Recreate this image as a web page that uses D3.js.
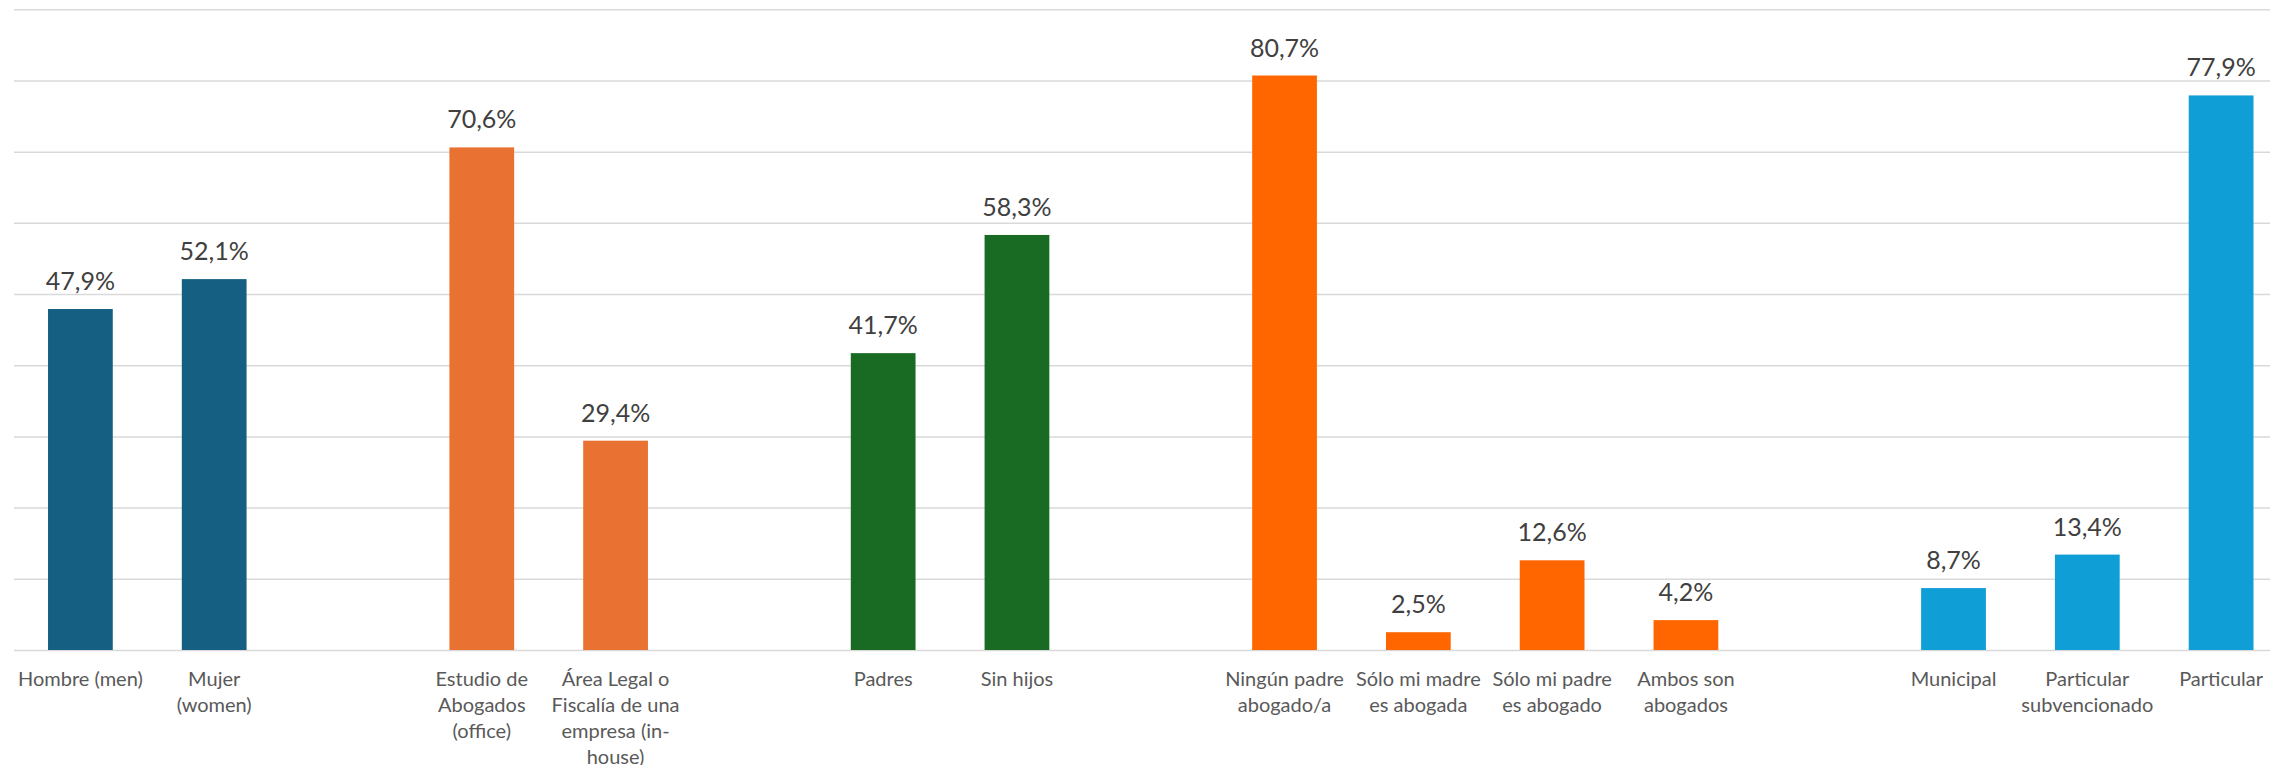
<!DOCTYPE html>
<html>
<head>
<meta charset="utf-8">
<script src="https://cdn.jsdelivr.net/npm/d3@7"></script>
<style>
	html, body { margin: 0; padding: 0; background: #fff; }
	svg { display: block; }
</style>
</head>
<body>
<script>
// Slots along the x axis (empty ids are the gaps between groups)
const slots = ['hombre', 'mujer', 'gap1', 'estudio', 'area', 'gap2', 'padres', 'sinhijos', 'gap3',
	'ningun', 'madre', 'padre', 'ambos', 'gap4', 'municipal', 'subvencionado', 'particular'];

const categories = ['hombre', 'mujer', 'estudio', 'area', 'padres', 'sinhijos',
	'ningun', 'madre', 'padre', 'ambos', 'municipal', 'subvencionado', 'particular'];

const values = [47.9, 52.1, 70.6, 29.4, 41.7, 58.3, 80.7, 2.5, 12.6, 4.2, 8.7, 13.4, 77.9];

const groups = ['sexo', 'sexo', 'trabajo', 'trabajo', 'hijos', 'hijos',
	'familia', 'familia', 'familia', 'familia', 'colegio', 'colegio', 'colegio'];

const tickLabels = [
	['Hombre (men)'],
	['Mujer', '(women)'],
	['Estudio de', 'Abogados', '(office)'],
	['Área Legal o', 'Fiscalía de una', 'empresa (in-', 'house)'],
	['Padres'],
	['Sin hijos'],
	['Ningún padre', 'abogado/a'],
	['Sólo mi madre', 'es abogada'],
	['Sólo mi padre', 'es abogado'],
	['Ambos son', 'abogados'],
	['Municipal'],
	['Particular', 'subvencionado'],
	['Particular']
];

const yTicks = [0, 10, 20, 30, 40, 50, 60, 70, 80, 90];

const groupColors = {
	sexo: '#156082',
	trabajo: '#E97132',
	hijos: '#196B24',
	familia: '#FF6600',
	colegio: '#0F9ED5'
};

const width = 2270;
const height = 765;

const svg = d3.select('body')
	.append('svg')
	.attr('width', width)
	.attr('height', height);

svg.append('rect')
	.attr('width', width)
	.attr('height', height)
	.attr('fill', '#fff');

const x = d3.scaleBand()
	.domain(slots)
	.range([13.5, 2288])
	.paddingInner(0.516)
	.paddingOuter(0.258);

const y = d3.scaleLinear()
	.domain([0, 90])
	.range([650, 9.3]);

// Gridlines
const grid = svg.append('g')
	.attr('transform', 'translate(14,0)')
	.call(d3.axisLeft(y).tickValues(yTicks).tickSize(-(width - 14)).tickFormat(''));
grid.select('.domain').remove();
grid.selectAll('.tick line')
	.attr('stroke', '#D9D9D9')
	.attr('stroke-width', 1.5);

const data = categories.map((c, i) => ({ id: c, value: values[i], group: groups[i], label: tickLabels[i] }));

// Bars
svg.append('g')
	.selectAll('rect')
	.data(data)
	.join('rect')
		.attr('x', d => x(d.id))
		.attr('y', d => y(d.value))
		.attr('width', x.bandwidth())
		.attr('height', d => y(0) - y(d.value))
		.attr('fill', d => groupColors[d.group]);

// Data labels
svg.append('g')
	.selectAll('text')
	.data(data)
	.join('text')
		.attr('x', d => x(d.id) + x.bandwidth() / 2)
		.attr('y', d => y(d.value) - 19)
		.attr('text-anchor', 'middle')
		.attr('font-family', 'Lato, sans-serif')
		.attr('font-size', 25)
		.attr('fill', '#404040')
		.text(d => d.value.toFixed(1).replace('.', ',') + '%');

// Category labels
const xAxis = svg.append('g')
	.attr('transform', `translate(0,${y(0)})`)
	.call(d3.axisBottom(x).tickValues(categories).tickSize(0).tickFormat(''));
xAxis.select('.domain').remove();

xAxis.selectAll('.tick')
	.data(data)
	.append('text')
		.attr('text-anchor', 'middle')
		.attr('font-family', 'Lato, sans-serif')
		.attr('font-size', 20)
		.attr('fill', '#595959')
		.selectAll('tspan')
		.data(d => d.label)
		.join('tspan')
			.attr('x', 0)
			.attr('y', (d, i) => 36 + i * 26)
			.text(d => d);
</script>
</body>
</html>
